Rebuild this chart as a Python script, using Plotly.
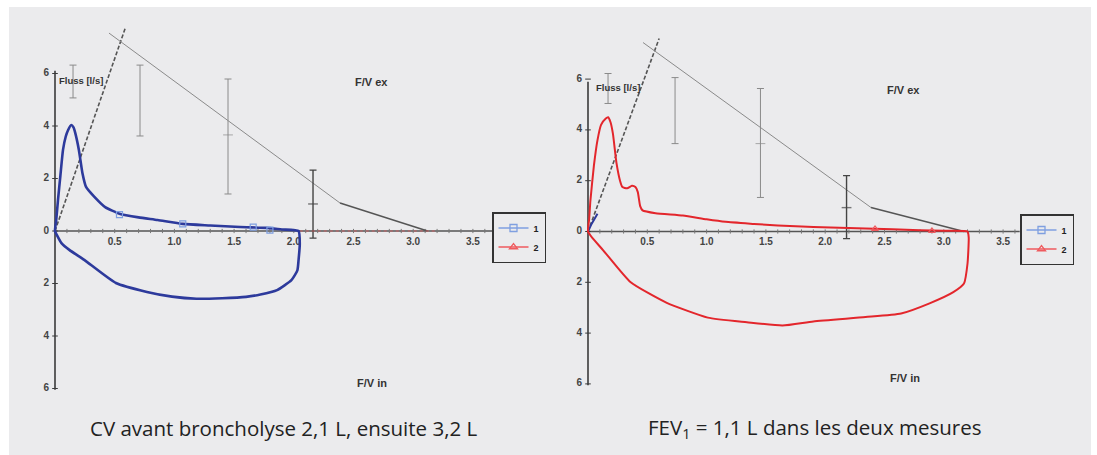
import plotly.graph_objects as go

W, H = 1097, 455

# ------------------------------------------------------------------ data
# x = volume [L], y = flow [l/s] (positive = expiration, negative = inspiration)
x_tick_vals = [0.5, 1.0, 1.5, 2.0, 2.5, 3.0, 3.5]
x_tick_text = ["0.5", "1.0", "1.5", "2.0", "2.5", "3.0", "3.5"]
y_tick_vals = [6, 4, 2, 0, -2, -4, -6]
y_tick_text = ["6", "4", "2", "0", "2", "4", "6"]

# left panel, measurement 1 (before broncholysis)
left_s1_vol = [0, 0.01, 0.025, 0.045, 0.067, 0.09, 0.11, 0.136, 0.155, 0.17, 0.2, 0.23, 0.26,
               0.33, 0.42, 0.54, 0.7, 0.86, 1.07, 1.30, 1.55, 1.77, 1.9, 2.04,
               2.05, 2.04, 2.03, 1.98, 1.86, 1.72, 1.60, 1.40, 1.185, 0.98, 0.77, 0.51,
               0.245, 0.12, 0.054, 0.015, 0]
left_s1_flow = [0, 0.4, 1.18, 2.1, 3.09, 3.6, 3.85, 4.04, 3.95, 3.73, 3.09, 2.2, 1.68,
                1.3, 0.91, 0.66, 0.52, 0.42, 0.27, 0.21, 0.15, 0.12, 0.06, 0.0,
                -0.5, -1.1, -1.5, -1.87, -2.25, -2.42, -2.51, -2.56, -2.58, -2.5, -2.32, -1.98,
                -1.1, -0.72, -0.46, -0.15, 0]
left_s1_mark_vol = [0.54, 1.07, 1.66, 1.80]
left_s1_mark_flow = [0.62, 0.27, 0.15, 0.03]
left_s2_vol = [2.05, 3.2]
left_s2_flow = [0.0, 0.0]

# right panel, measurement 2 (after broncholysis)
right_s2_vol = [0, 0.01, 0.02, 0.05, 0.08, 0.11, 0.15, 0.17, 0.19, 0.21, 0.24, 0.27, 0.29,
                0.33, 0.37, 0.40, 0.42, 0.44, 0.46, 0.57, 0.8, 1.0, 1.16, 1.4, 1.6, 1.9,
                2.34, 2.8, 3.0, 3.2,
                3.21, 3.2, 3.17, 3.08, 2.88, 2.64, 2.34, 1.9, 1.64, 1.34, 1.01, 0.66,
                0.36, 0.13, 0.035, 0]
right_s2_flow = [0, 0.5, 1.2, 2.6, 3.6, 4.2, 4.45, 4.5, 4.3, 3.85, 2.7, 2.0, 1.75,
                 1.7, 1.8, 1.75, 1.55, 1.0, 0.83, 0.72, 0.63, 0.48, 0.38, 0.3, 0.24, 0.18,
                 0.12, 0.05, 0.03, 0.0,
                 -0.24, -1.26, -2.05, -2.39, -2.83, -3.23, -3.37, -3.54, -3.7, -3.57, -3.39, -2.8,
                 -2.0, -0.75, -0.24, 0]
right_s2_mark_vol = [2.42, 2.9]
right_s2_mark_flow = [0.10, 0.02]
right_s1_vol = [0, 0.03, 0.08]
right_s1_flow = [0, 0.3, 0.7]

# reference lines
left_steep_vol, left_steep_flow = [0, 0.59], [0, 7.75]
right_steep_vol, right_steep_flow = [0, 0.60], [0, 7.6]
left_pred_thin_vol, left_pred_thin_flow = [0.452, 2.387], [7.54, 1.067]
left_pred_dark_vol, left_pred_dark_flow = [2.387, 3.12], [1.067, 0.0]
right_pred_thin_vol, right_pred_thin_flow = [0.464, 2.386], [7.44, 0.945]
right_pred_dark_vol, right_pred_dark_flow = [2.386, 3.17], [0.945, 0.0]

# error bars: volume, top, bottom, mid tick
left_eb_vol = [0.151, 0.712, 1.449]
left_eb_top = [6.32, 6.32, 5.79]
left_eb_bot = [5.07, 3.62, 1.41]
left_eb_mid = [None, None, 3.66]
left_eb4 = dict(vol=2.161, top=2.32, bot=-0.27, mid=1.03)
right_eb_vol = [0.169, 0.734, 1.454]
right_eb_top = [6.22, 6.06, 5.63]
right_eb_bot = [5.04, 3.46, 1.34]
right_eb_mid = [None, None, 3.46]
right_eb4 = dict(vol=2.18, top=2.20, bot=-0.28, mid=0.94)

minor_ticks = [round(0.1 * i, 1) for i in range(1, 37)]

captions = ["CV avant broncholyse 2,1 L, ensuite 3,2 L",
            "FEV<sub>1</sub> = 1,1 L dans les deux mesures"]

# ------------------------------------------------------------------ styles / helpers
BLUE = "#2d3a9c"
BLUE_L = "#7f9fe0"
RED = "#e3262c"
RED_L = "#ef5a5e"
DARK = "#3a3a3a"
GREY = "#8a8a8a"
BG = "#ebebed"

panels = {
    "L": dict(ox=55, oy=231, sx=119.4, sy=26.25, px0=20, px1=545, xend=3.668, ytop=6.1, suffix=""),
    "R": dict(ox=588, oy=231.5, sx=118.6, sy=25.4, px0=560, px1=1085, xend=3.64, ytop=5.9, suffix="2"),
}
PY0, PY1 = 15, 405

fig = go.Figure()


def add(panel, trace):
    s = panels[panel]["suffix"]
    trace.update(xaxis="x" + s, yaxis="y" + s)
    fig.add_trace(trace)


def errbars(panel, vols, tops, bots, mids, color, width):
    ymid = [m if m is not None else (t + b) / 2 for m, t, b in zip(mids, tops, bots)]
    add(panel, go.Scatter(
        x=vols, y=ymid, mode="markers",
        marker=dict(symbol="line-ew", size=[7 if m is not None else 0 for m in mids],
                    line=dict(color=color, width=width)),
        error_y=dict(type="data", symmetric=False,
                     array=[t - y for t, y in zip(tops, ymid)],
                     arrayminus=[y - b for y, b in zip(ymid, bots)],
                     color=color, thickness=width, width=3.5),
        showlegend=False, hoverinfo="skip"))


tick_font = dict(family="Liberation Sans", size=10, color="#444444", weight="bold")

for key, data in [
    ("L", dict(steep=(left_steep_vol, left_steep_flow),
               thin=(left_pred_thin_vol, left_pred_thin_flow),
               dark=(left_pred_dark_vol, left_pred_dark_flow),
               eb=(left_eb_vol, left_eb_top, left_eb_bot, left_eb_mid), eb4=left_eb4)),
    ("R", dict(steep=(right_steep_vol, right_steep_flow),
               thin=(right_pred_thin_vol, right_pred_thin_flow),
               dark=(right_pred_dark_vol, right_pred_dark_flow),
               eb=(right_eb_vol, right_eb_top, right_eb_bot, right_eb_mid), eb4=right_eb4)),
]:
    p = panels[key]
    # axes
    add(key, go.Scatter(x=[0, 0], y=[-6.05, p["ytop"]], mode="lines",
                        line=dict(color=DARK, width=1.6), showlegend=False, hoverinfo="skip"))
    add(key, go.Scatter(x=[0, p["xend"]], y=[0, 0], mode="lines",
                        line=dict(color="#555555", width=1.6), showlegend=False, hoverinfo="skip"))
    add(key, go.Scatter(x=minor_ticks, y=[0] * len(minor_ticks), mode="markers",
                        marker=dict(symbol="line-ns", size=3, line=dict(color="#777777", width=1)),
                        showlegend=False, hoverinfo="skip"))
    add(key, go.Scatter(x=[0] * len(y_tick_vals), y=y_tick_vals, mode="markers",
                        marker=dict(symbol="line-ew", size=4, line=dict(color=DARK, width=1)),
                        showlegend=False, hoverinfo="skip"))
    # tick labels
    add(key, go.Scatter(x=x_tick_vals, y=[-0.42] * len(x_tick_vals), mode="text",
                        text=x_tick_text, textposition="middle center", textfont=tick_font,
                        showlegend=False, hoverinfo="skip"))
    add(key, go.Scatter(x=[-0.05] * len(y_tick_vals), y=y_tick_vals, mode="text",
                        text=y_tick_text, textposition="middle left", textfont=tick_font,
                        showlegend=False, hoverinfo="skip"))
    # reference lines
    add(key, go.Scatter(x=data["steep"][0], y=data["steep"][1], mode="lines",
                        line=dict(color="#555555", width=1.6, dash="4px,2px"),
                        showlegend=False, hoverinfo="skip"))
    add(key, go.Scatter(x=data["thin"][0], y=data["thin"][1], mode="lines",
                        line=dict(color=GREY, width=1), showlegend=False, hoverinfo="skip"))
    add(key, go.Scatter(x=data["dark"][0], y=data["dark"][1], mode="lines",
                        line=dict(color="#555555", width=1.5), showlegend=False, hoverinfo="skip"))
    errbars(key, *data["eb"], color=GREY, width=1)
    e4 = data["eb4"]
    errbars(key, [e4["vol"]], [e4["top"]], [e4["bot"]], [e4["mid"]], color="#444444", width=1.4)

# curves
add("L", go.Scatter(x=left_s2_vol, y=left_s2_flow, mode="lines",
                    line=dict(color=RED_L, width=1, dash="dot"), opacity=0.7,
                    showlegend=False, hoverinfo="skip"))
add("L", go.Scatter(x=left_s1_vol, y=left_s1_flow, mode="lines",
                    line=dict(color=BLUE, width=2.6, shape="spline", smoothing=0.5),
                    showlegend=False, hoverinfo="skip"))
add("L", go.Scatter(x=left_s1_mark_vol, y=left_s1_mark_flow, mode="markers",
                    marker=dict(symbol="square-open", size=6, color=BLUE_L, line=dict(width=1.2)),
                    showlegend=False, hoverinfo="skip"))
add("R", go.Scatter(x=right_s1_vol, y=right_s1_flow, mode="lines",
                    line=dict(color=BLUE, width=2), showlegend=False, hoverinfo="skip"))
add("R", go.Scatter(x=right_s2_vol, y=right_s2_flow, mode="lines",
                    line=dict(color=RED, width=2, shape="spline", smoothing=0.5),
                    showlegend=False, hoverinfo="skip"))
add("R", go.Scatter(x=right_s2_mark_vol, y=right_s2_mark_flow, mode="markers",
                    marker=dict(symbol="triangle-up-open", size=6, color=RED_L, line=dict(width=1.2)),
                    showlegend=False, hoverinfo="skip"))

# legend entries
for key, leg in [("L", "legend"), ("R", "legend2")]:
    add(key, go.Scatter(x=[None], y=[None], mode="lines+markers", name="1", legend=leg,
                        line=dict(color=BLUE_L, width=1.5),
                        marker=dict(symbol="square-open", size=7, color=BLUE_L, line=dict(width=1.3))))
    add(key, go.Scatter(x=[None], y=[None], mode="lines+markers", name="2", legend=leg,
                        line=dict(color=RED_L, width=1.5),
                        marker=dict(symbol="triangle-up-open", size=7, color=RED_L, line=dict(width=1.3))))

# axes
ydom = [1 - PY1 / H, 1 - PY0 / H]
for key, p in panels.items():
    s = p["suffix"]
    xr = [(p["px0"] - p["ox"]) / p["sx"], (p["px1"] - p["ox"]) / p["sx"]]
    yr = [(p["oy"] - PY1) / p["sy"], (p["oy"] - PY0) / p["sy"]]
    fig.update_layout({
        "xaxis" + s: dict(domain=[p["px0"] / W, p["px1"] / W], range=xr, visible=False,
                          anchor="y" + s, fixedrange=True),
        "yaxis" + s: dict(domain=ydom, range=yr, visible=False, anchor="x" + s, fixedrange=True),
    })

legend_common = dict(xanchor="left", yanchor="top", bgcolor="rgba(0,0,0,0)",
                     bordercolor="#333333", borderwidth=1.5, itemwidth=30,
                     font=dict(family="Liberation Sans", size=9, color="#222222", weight="bold"),
                     tracegroupgap=0)


def ann(xp, yp, text, size=10, color="#333333", family="Liberation Sans", weight="bold"):
    return dict(x=xp / W, y=1 - yp / H, xref="paper", yref="paper", text=text, showarrow=False,
                xanchor="center", yanchor="middle",
                font=dict(family=family, size=size, color=color, weight=weight))


annotations = [
    ann(80.5, 80, "Fluss [l/s]", size=9.5), ann(617.5, 87, "Fluss [l/s]", size=9.5),
    ann(371, 82, "F/V ex", size=11), ann(903.5, 90, "F/V ex", size=11),
    ann(372, 383, "F/V in", size=11), ann(904.5, 378, "F/V in", size=11),
    ann(283.5, 428, captions[0], size=20.5, color="#222222", family="Open Sans", weight="normal"),
    ann(814, 428, captions[1], size=20.5, color="#222222", family="Open Sans", weight="normal"),
]

fig.update_layout(
    width=W, height=H, margin=dict(l=0, r=0, t=0, b=0),
    paper_bgcolor="white", plot_bgcolor="rgba(0,0,0,0)",
    shapes=[dict(type="rect", xref="paper", yref="paper", x0=9 / W, x1=1091 / W,
                 y0=0, y1=1 - 7 / H, fillcolor=BG, line=dict(width=0), layer="below")],
    legend=dict(x=492 / W, y=1 - 212 / H, **legend_common),
    legend2=dict(x=1020 / W, y=1 - 214 / H, **legend_common),
    annotations=annotations,
    showlegend=True,
)

fig.write_html("out.html", config={"displayModeBar": False},
               post_script="document.body.style.margin='0px';document.body.style.padding='0px';"
                           "document.body.style.overflow='hidden';")
